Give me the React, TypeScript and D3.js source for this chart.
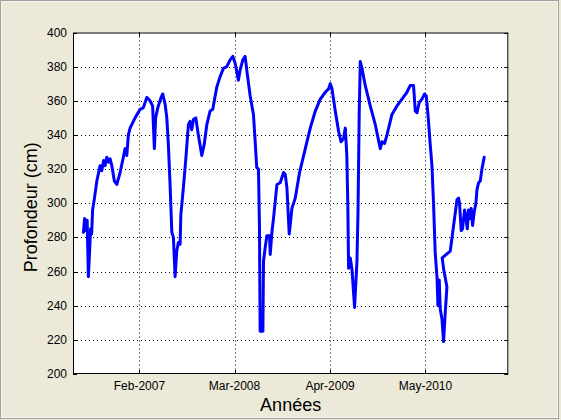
import React from "react";
import * as d3 from "d3";

// Decimal-year timestamps of the measurements
const years: number[] = [
  2006.450, 2006.463, 2006.480, 2006.492, 2006.506, 2006.520, 2006.531, 2006.543, 2006.554, 2006.575,
  2006.602, 2006.639, 2006.658, 2006.679, 2006.696, 2006.715, 2006.736, 2006.753, 2006.772, 2006.801,
  2006.829, 2006.866, 2006.903, 2006.923, 2006.942, 2006.960, 2006.979, 2007.036, 2007.093, 2007.130,
  2007.169, 2007.206, 2007.235, 2007.255, 2007.269, 2007.294, 2007.331, 2007.350, 2007.377, 2007.396,
  2007.414, 2007.433, 2007.453, 2007.471, 2007.490, 2007.509, 2007.527, 2007.547, 2007.555, 2007.584,
  2007.615, 2007.641, 2007.660, 2007.679, 2007.698, 2007.725, 2007.754, 2007.793, 2007.819, 2007.850,
  2007.887, 2007.918, 2007.924, 2007.963, 2008.000, 2008.038, 2008.076, 2008.114, 2008.145, 2008.171,
  2008.208, 2008.227, 2008.258, 2008.284, 2008.310, 2008.341, 2008.378, 2008.398, 2008.415, 2008.435,
  2008.446, 2008.454, 2008.485, 2008.492, 2008.511, 2008.530, 2008.560, 2008.568, 2008.587, 2008.605,
  2008.644, 2008.681, 2008.719, 2008.738, 2008.757, 2008.783, 2008.814, 2008.851, 2008.900, 2008.965,
  2009.021, 2009.078, 2009.135, 2009.192, 2009.229, 2009.248, 2009.268, 2009.305, 2009.343, 2009.370,
  2009.399, 2009.419, 2009.436, 2009.447, 2009.456, 2009.475, 2009.495, 2009.524, 2009.551, 2009.563,
  2009.577, 2009.589, 2009.608, 2009.645, 2009.702, 2009.759, 2009.816, 2009.835, 2009.864, 2009.892,
  2009.948, 2010.005, 2010.062, 2010.118, 2010.156, 2010.193, 2010.213, 2010.232, 2010.258, 2010.289,
  2010.318, 2010.337, 2010.357, 2010.383, 2010.402, 2010.420, 2010.439, 2010.459, 2010.470, 2010.485,
  2010.496, 2010.516, 2010.534, 2010.553, 2010.572, 2010.536, 2010.518, 2010.610, 2010.686, 2010.704,
  2010.715, 2010.734, 2010.749, 2010.772, 2010.788, 2010.803, 2010.817, 2010.837, 2010.848, 2010.863,
  2010.882, 2010.901, 2010.913, 2010.931, 2010.950, 2010.969, 2010.995,
];

// Depth (cm)
const depths: number[] = [
  283, 291, 284, 290, 257, 272, 285, 282, 296, 303,
  313, 322, 319, 325, 322, 327, 324, 326, 322, 313,
  311, 318, 327, 332, 328, 340, 344, 350, 355, 356,
  362, 360, 357, 332, 350, 356, 362, 364, 358, 350,
  334, 311, 283, 280, 257, 272, 277, 276, 293, 309,
  328, 346, 348, 343, 349, 350, 340, 328, 334, 346,
  354, 355, 357, 368, 374, 379, 380, 384, 386, 382,
  372, 378, 384, 386, 375, 363, 352, 336, 321, 320,
  287, 225, 225, 266, 274, 281, 281, 270, 283, 291,
  311, 312, 318, 317, 309, 282, 297, 303, 318, 332,
  344, 354, 361, 365, 367, 370, 367, 354, 342, 336,
  338, 344, 328, 300, 262, 268, 261, 239, 266, 295,
  354, 383, 379, 369, 357, 346, 332, 336, 335, 340,
  352, 357, 361, 365, 369, 369, 354, 353, 359, 361,
  364, 363, 352, 334, 322, 300, 271, 257, 240, 255,
  238, 232, 219, 236, 251, 261, 268, 272, 302, 303,
  300, 284, 285, 296, 292, 285, 296, 291, 297, 287,
  295, 300, 308, 312, 313, 320, 327,
];

const xDomain: string[] = ["2006-05-02", "2011-04-09"];
const xTickDates: string[] = ["2007-02-01", "2008-03-01", "2009-04-01", "2010-05-01"];
const yTicks: number[] = [200, 220, 240, 260, 280, 300, 320, 340, 360, 380, 400];

const W = 561;
const H = 420;
const M = { left: 73, right: 508.3, top: 32.5, bottom: 374 };

function toDate(t: number): Date {
  const yr = Math.floor(t);
  const s = Date.UTC(yr, 0, 1);
  const e = Date.UTC(yr + 1, 0, 1);
  return new Date(s + (t - yr) * (e - s));
}

export default function App() {
  const x = d3
    .scaleUtc()
    .domain(xDomain.map((d) => new Date(d + "T00:00:00Z")))
    .range([M.left, M.right]);
  const y = d3.scaleLinear().domain([200, 400]).range([M.bottom, M.top]);

  const data = years.map((t, i) => ({ date: toDate(t), v: depths[i] }));
  const line = d3
    .line<{ date: Date; v: number }>()
    .x((d) => x(d.date))
    .y((d) => y(d.v));

  const fmt = d3.utcFormat("%b-%Y");
  const xt = xTickDates.map((d) => new Date(d + "T00:00:00Z"));
  const font = "Arial, 'Liberation Sans', Helvetica, sans-serif";
  const tl = 4;

  return (
    <svg
      width={W}
      height={H}
      style={{ position: "absolute", left: 0, top: 0 }}
      xmlns="http://www.w3.org/2000/svg"
    >
      <rect x={0} y={0} width={W} height={H} fill="#ECE9D8" />
      <rect x={0.5} y={0.5} width={W - 3} height={H - 2} fill="none" stroke="#A0A0A0" />
      <rect x={1.5} y={1.5} width={W - 5} height={H - 4} fill="none" stroke="#FFFFFF" strokeOpacity={0.6} />
      <rect
        x={M.left}
        y={M.top}
        width={M.right - M.left}
        height={M.bottom - M.top}
        fill="#FFFFFF"
      />
      {/* grid */}
      {yTicks.slice(1, -1).map((t) => (
        <line
          key={"gy" + t}
          x1={M.left}
          x2={M.right}
          y1={Math.round(y(t)) + 0.5}
          y2={Math.round(y(t)) + 0.5}
          stroke="#000"
          strokeDasharray="1,3"
        />
      ))}
      {xt.map((d, i) => (
        <line
          key={"gx" + i}
          x1={Math.round(x(d)) + 0.5}
          x2={Math.round(x(d)) + 0.5}
          y1={M.top}
          y2={M.bottom}
          stroke="#000"
          strokeDasharray="1,3"
        />
      ))}
      {/* ticks */}
      {yTicks.map((t) => (
        <g key={"ty" + t}>
          <line x1={M.left} x2={M.left + tl} y1={Math.round(y(t)) + 0.5} y2={Math.round(y(t)) + 0.5} stroke="#000" />
          <line x1={M.right - tl} x2={M.right} y1={Math.round(y(t)) + 0.5} y2={Math.round(y(t)) + 0.5} stroke="#000" />
          <text
            x={67}
            y={y(t)}
            textAnchor="end"
            dominantBaseline="central"
            fontFamily={font}
            fontSize={12}
            fill="#000"
          >
            {t}
          </text>
        </g>
      ))}
      {xt.map((d, i) => (
        <g key={"tx" + i}>
          <line x1={Math.round(x(d)) + 0.5} x2={Math.round(x(d)) + 0.5} y1={M.bottom - tl} y2={M.bottom} stroke="#000" />
          <line x1={Math.round(x(d)) + 0.5} x2={Math.round(x(d)) + 0.5} y1={M.top} y2={M.top + tl} stroke="#000" />
          <text
            x={x(d)}
            y={390}
            textAnchor="middle"
            fontFamily={font}
            fontSize={12}
            fill="#000"
          >
            {fmt(d)}
          </text>
        </g>
      ))}
      {/* data line */}
      <path
        d={line(data) || ""}
        fill="none"
        stroke="#0000FF"
        strokeWidth={3}
        strokeLinejoin="round"
        strokeLinecap="round"
      />
      {/* box */}
      <rect
        x={M.left + 0.5}
        y={M.top + 0.5}
        width={M.right - M.left - 1}
        height={M.bottom - M.top - 1}
        fill="none"
        stroke="#000"
      />
      {/* axis labels */}
      <text
        x={(M.left + M.right) / 2}
        y={411}
        textAnchor="middle"
        fontFamily={font}
        fontSize={18}
        fill="#000"
      >
        Années
      </text>
      <text
        transform={`translate(37, ${(M.top + M.bottom) / 2 + 4}) rotate(-90)`}
        textAnchor="middle"
        fontFamily={font}
        fontSize={18}
        fill="#000"
      >
        Profondeur (cm)
      </text>
    </svg>
  );
}
